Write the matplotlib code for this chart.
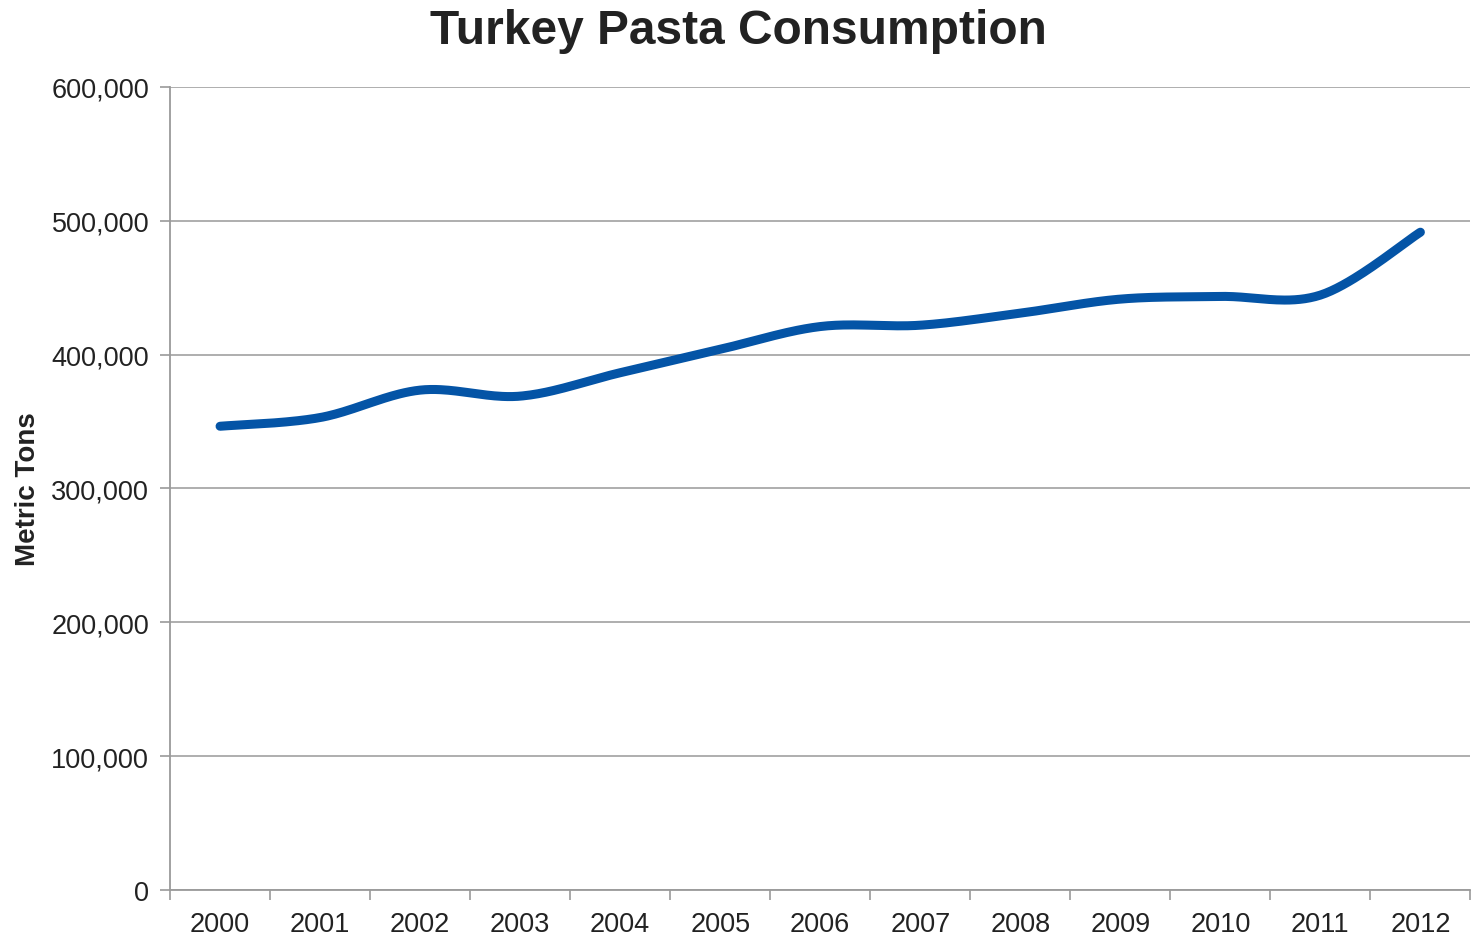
import matplotlib.pyplot as plt
import numpy as np
from matplotlib.ticker import FuncFormatter

plt.rcParams['font.family'] = ['Liberation Sans', 'DejaVu Sans']

years = ['2000', '2001', '2002', '2003', '2004', '2005', '2006',
         '2007', '2008', '2009', '2010', '2011', '2012']
tons = [346500, 353000, 373500, 369000, 386500, 404000, 421000,
        422000, 431000, 441500, 443500, 444500, 491500]

# smooth the line the way spreadsheet charts do (catmull-rom between points)
x = np.arange(len(tons), dtype=float)
y = np.array(tons, dtype=float)
xs, ys = [], []
for i in range(len(x) - 1):
    p0 = i - 1 if i > 0 else i
    p3 = i + 2 if i + 2 < len(x) else i + 1
    m1x = (x[i + 1] - x[p0]) / 2
    m1y = (y[i + 1] - y[p0]) / 2
    m2x = (x[p3] - x[i]) / 2
    m2y = (y[p3] - y[i]) / 2
    t = np.linspace(0, 1, 40)
    h00 = 2 * t**3 - 3 * t**2 + 1
    h10 = t**3 - 2 * t**2 + t
    h01 = -2 * t**3 + 3 * t**2
    h11 = t**3 - t**2
    xs.extend(h00 * x[i] + h10 * m1x + h01 * x[i + 1] + h11 * m2x)
    ys.extend(h00 * y[i] + h10 * m1y + h01 * y[i + 1] + h11 * m2y)

fig = plt.figure(figsize=(14.71, 9.37), dpi=100)
ax = fig.add_axes([0.1156, 0.0491, 0.884, 0.857])

ax.plot(xs, ys, color='#0454a6', lw=6.5, solid_capstyle='round')

ax.set_xlim(-0.5, 12.5)
ax.set_ylim(0, 600000)
ax.set_yticks(np.arange(0, 600001, 100000))
ax.yaxis.set_major_formatter(FuncFormatter(lambda v, p: f'{int(v):,}'))
ax.set_xticks(x)
ax.set_xticklabels(years)
ax.set_xticks(np.arange(-0.5, 12.6, 1), minor=True)

ax.grid(axis='y', color='#a8a8a8', lw=1.3)
ax.set_axisbelow(True)
for s in ['top', 'right']:
    ax.spines[s].set_visible(False)
for s in ['left', 'bottom']:
    ax.spines[s].set_color('#9a9a9a')
    ax.spines[s].set_linewidth(1.3)

ax.tick_params(axis='x', which='major', length=0, pad=15, labelsize=19.5, labelcolor='#222222')
ax.tick_params(axis='x', which='minor', length=7, color='#9a9a9a', width=1.2)
ax.tick_params(axis='y', length=7, color='#9a9a9a', width=1.2, pad=8, labelsize=19.5, labelcolor='#222222')

ax.set_ylabel('Metric Tons', fontsize=20, fontweight='bold', color='#222222')
ax.yaxis.set_label_coords(-0.099, 0.5)
fig.suptitle('Turkey Pasta Consumption', x=0.502, y=0.99, fontsize=34.5, fontweight='bold', color='#222222')

fig.savefig('out.png', dpi=100)
